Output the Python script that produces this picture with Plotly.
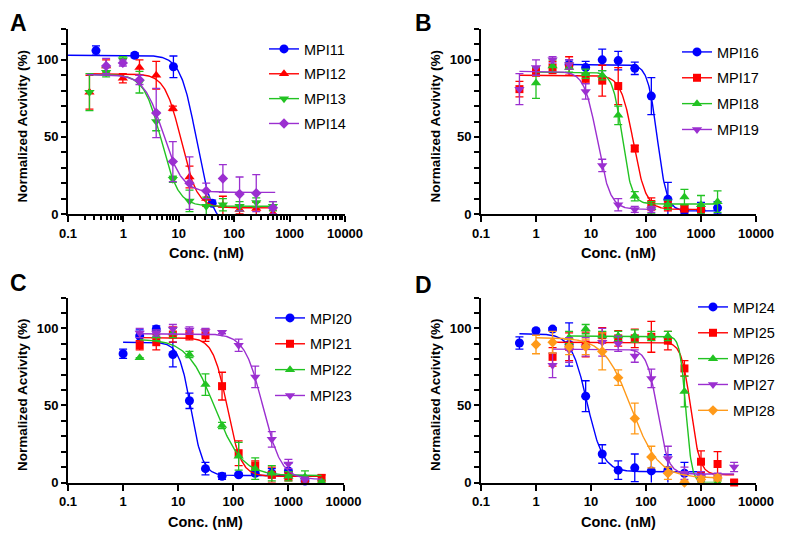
import numpy as np
import plotly.graph_objects as go

FONT = "Liberation Sans, Arial, sans-serif"

# ---------------- Panel A ----------------
MPI11_conc = [0.32, 1.6, 8.0, 40.0]
MPI11_mean = [106, 103, 95.5, 7]
MPI11_sd = [3, 1.5, 7, 2]
MPI11_fit = [103, -8, 21, 3.0]        # top, bottom, IC50 (nM), Hill
MPI11_span = [0.1, 60]

MPI12_conc = [0.244, 0.488, 0.977, 1.95, 3.91, 7.81, 15.6, 31.3, 62.5, 125, 250, 500]
MPI12_mean = [79, 96, 88, 95, 90, 68.5, 24, 10, 5.5, 3, 3.5, 0.5]
MPI12_sd = [11, 4, 3, 5, 9, 1.5, 7, 5, 6, 3, 4, 2]
MPI12_fit = [91, 4, 11, 3.0]
MPI12_span = [0.22, 550]

MPI13_conc = [0.244, 0.488, 0.977, 1.95, 3.91, 7.81, 15.6, 31.3, 62.5, 125, 250, 500]
MPI13_mean = [79, 92, 100, 85.5, 60, 22.5, 8.5, 5, 6, 5, 7.5, 5]
MPI13_sd = [12, 3, 2, 7, 6, 2, 7, 6, 4, 3, 3, 3]
MPI13_fit = [90.5, 5, 4.8, 2.8]
MPI13_span = [0.22, 550]

MPI14_conc = [0.488, 0.977, 1.95, 3.91, 7.81, 15.6, 31.3, 62.5, 125, 250, 500]
MPI14_mean = [96, 98, 87, 65.5, 34, 20, 15, 23, 13, 13.5, 4]
MPI14_sd = [5, 2, 3, 16, 13, 17, 5, 9, 11, 12, 4]
MPI14_fit = [90.5, 14, 5.2, 2.5]
MPI14_span = [0.22, 550]

# ---------------- Panel B ----------------
MPI16_conc = [4, 8, 16, 31.25, 62.5, 125, 250, 500, 1000, 2000]
MPI16_mean = [97, 95, 100, 99.5, 94.5, 76.5, 9.5, 2.5, 2.5, 4]
MPI16_sd = [3, 4, 7, 6, 4, 12, 11, 2, 5, 4]
MPI16_fit = [97, 2, 160, 5.0]
MPI16_span = [3.5, 2000]

MPI17_conc = [0.5, 1, 2, 4, 8, 16, 31.25, 62.5, 125, 250, 500, 1000]
MPI17_mean = [81, 92.5, 95, 96, 88, 86.5, 83, 42.5, 6.5, 5, 3.5, 3]
MPI17_sd = [5, 3, 4, 6, 3, 10, 12, 2, 4, 3, 2, 2]
MPI17_fit = [90, 3, 59, 3.8]
MPI17_span = [0.5, 1000]

MPI18_conc = [1, 2, 4, 8, 16, 31.25, 62.5, 125, 250, 500, 1000, 2000]
MPI18_mean = [85, 96, 95, 91, 90, 64, 11.5, 4, 6, 11, 6, 8]
MPI18_sd = [10, 4, 3, 3, 3, 6, 3, 4, 3, 5, 6, 7]
MPI18_fit = [92, 6.5, 37, 5.0]
MPI18_span = [1, 2000]

MPI19_conc = [0.5, 1, 2, 4, 8, 16, 31.25, 62.5, 125]
MPI19_mean = [81, 95, 100, 97, 79.5, 31.5, 6, 3, 3]
MPI19_sd = [10, 5, 2, 3, 5, 4, 4, 2, 2]
MPI19_fit = [92.5, 3, 13, 3.7]
MPI19_span = [0.5, 125]

# ---------------- Panel C ----------------
MPI20_conc = [1, 2, 4, 8, 16, 31.25, 62.5, 125, 250, 500, 1000, 2000]
MPI20_mean = [83.5, 95, 99.5, 83, 53, 9, 4, 5, 6, 6, 7.5, 1]
MPI20_sd = [3, 4, 2, 8, 5, 4, 2, 1, 1, 3, 5, 2]
MPI20_fit = [91, 4.5, 17, 4.0]
MPI20_span = [1, 2000]

MPI21_conc = [2, 4, 8, 16, 31.25, 62.5, 125, 250, 500, 1000, 2000, 4000]
MPI21_mean = [89, 91, 96, 95.5, 95.5, 62.5, 19, 11, 5, 4, 1.5, 3]
MPI21_sd = [3, 5, 5, 3, 4, 9, 8, 3, 5, 3, 2, 2]
MPI21_fit = [94, 4, 77, 3.4]
MPI21_span = [2, 4000]

MPI22_conc = [2, 4, 8, 16, 31.25, 62.5, 125, 250, 500, 1000, 2000, 4000]
MPI22_mean = [81, 95, 97, 83, 63.5, 37, 17, 9, 6, 4, 3.5, 0.5]
MPI22_sd = [0, 3, 3, 2, 7, 2, 9, 7, 5, 3, 4, 1]
MPI22_fit = [93, 4.5, 46, 1.75]
MPI22_span = [2, 4000]

MPI23_conc = [2, 4, 8, 16, 31.25, 62.5, 125, 250, 500, 1000, 2000]
MPI23_mean = [97, 97, 99.5, 99, 98, 97.5, 89, 68.5, 28, 12, 1.5]
MPI23_sd = [3, 2, 3, 2, 2, 1, 4, 7, 5, 3, 2]
MPI23_fit = [96.5, 2, 345, 2.6]
MPI23_span = [2, 4000]

# ---------------- Panel D ----------------
MPI24_conc = [0.5, 1, 2, 4, 8, 16, 31.25, 62.5, 125, 250, 500, 1000]
MPI24_mean = [90.5, 98.5, 99.5, 89.5, 56, 18.5, 8, 9.5, 7.5, 8, 6, 4]
MPI24_sd = [4, 1, 1, 14, 10, 6, 6, 9, 9, 10, 7, 3]
MPI24_fit = [96.5, 7, 8.5, 3.0]
MPI24_span = [0.5, 1000]

MPI25_conc = [2, 4, 8, 16, 31.25, 62.5, 125, 250, 500, 1000, 2000, 4000]
MPI25_mean = [81.5, 88, 89.5, 95.5, 93.5, 93.5, 94.5, 92, 74, 13.5, 12, 0]
MPI25_sd = [6, 9, 8, 5, 5, 6, 10, 6, 5, 7, 8, 1]
MPI25_fit = [91, 5, 650, 5.2]
MPI25_span = [2, 4000]

MPI26_conc = [4, 8, 16, 31.25, 62.5, 125, 250, 500, 1000, 2000]
MPI26_mean = [94, 99.5, 95, 95, 95, 95, 95, 59, 0, 0]
MPI26_sd = [4, 3, 3, 3, 4, 3, 3, 10, 1, 1]
MPI26_fit = [95, 0, 530, 8.0]
MPI26_span = [4, 2000]

MPI27_conc = [2, 4, 8, 16, 31.25, 62.5, 125, 250, 500, 1000, 2000, 4000]
MPI27_mean = [76, 86, 88, 91, 90, 82, 67.5, 15.5, 6, 4, 4, 10]
MPI27_sd = [8, 8, 6, 9, 5, 4, 6, 8, 4, 3, 2, 3]
MPI27_fit = [86.5, 5.5, 162, 4.5]
MPI27_span = [2, 4000]

MPI28_conc = [1, 2, 4, 8, 16, 31.25, 62.5, 125, 250, 500, 1000, 2000]
MPI28_mean = [89.5, 91, 88, 88, 85, 68, 41.5, 16.5, 6, 0, 2, 3]
MPI28_sd = [6, 7, 5, 5, 12, 5, 10, 7, 4, 1, 2, 2]
MPI28_fit = [94, 3, 54, 1.76]
MPI28_span = [1, 2000]

X_TICKS = [0.1, 1, 10, 100, 1000, 10000]
X_TICK_TEXT = ["0.1", "1", "10", "100", "1000", "10000"]
Y_TICKS = list(range(0, 121, 10))
Y_TICK_TEXT = ["0", "", "", "", "", "50", "", "", "", "", "100", "", ""]

PANELS = [
    ("A", [("MPI11", MPI11_conc, MPI11_mean, MPI11_sd, MPI11_fit, MPI11_span),
           ("MPI12", MPI12_conc, MPI12_mean, MPI12_sd, MPI12_fit, MPI12_span),
           ("MPI13", MPI13_conc, MPI13_mean, MPI13_sd, MPI13_fit, MPI13_span),
           ("MPI14", MPI14_conc, MPI14_mean, MPI14_sd, MPI14_fit, MPI14_span)]),
    ("B", [("MPI16", MPI16_conc, MPI16_mean, MPI16_sd, MPI16_fit, MPI16_span),
           ("MPI17", MPI17_conc, MPI17_mean, MPI17_sd, MPI17_fit, MPI17_span),
           ("MPI18", MPI18_conc, MPI18_mean, MPI18_sd, MPI18_fit, MPI18_span),
           ("MPI19", MPI19_conc, MPI19_mean, MPI19_sd, MPI19_fit, MPI19_span)]),
    ("C", [("MPI20", MPI20_conc, MPI20_mean, MPI20_sd, MPI20_fit, MPI20_span),
           ("MPI21", MPI21_conc, MPI21_mean, MPI21_sd, MPI21_fit, MPI21_span),
           ("MPI22", MPI22_conc, MPI22_mean, MPI22_sd, MPI22_fit, MPI22_span),
           ("MPI23", MPI23_conc, MPI23_mean, MPI23_sd, MPI23_fit, MPI23_span)]),
    ("D", [("MPI24", MPI24_conc, MPI24_mean, MPI24_sd, MPI24_fit, MPI24_span),
           ("MPI25", MPI25_conc, MPI25_mean, MPI25_sd, MPI25_fit, MPI25_span),
           ("MPI26", MPI26_conc, MPI26_mean, MPI26_sd, MPI26_fit, MPI26_span),
           ("MPI27", MPI27_conc, MPI27_mean, MPI27_sd, MPI27_fit, MPI27_span),
           ("MPI28", MPI28_conc, MPI28_mean, MPI28_sd, MPI28_fit, MPI28_span)]),
]

COLORS = ["#0000FF", "#FF0000", "#22C322", "#9B2FD0", "#FF9A1A"]
SYMBOLS = {
    "A": ["circle", "triangle-up", "triangle-down", "diamond"],
    "B": ["circle", "square", "triangle-up", "triangle-down"],
    "C": ["circle", "square", "triangle-up", "triangle-down"],
    "D": ["circle", "square", "triangle-up", "triangle-down", "diamond"],
}
SIZES = {"circle": 9, "square": 8, "triangle-up": 9, "triangle-down": 9, "diamond": 8}

# The page body keeps its default 8px margin, so the figure is 8px smaller
# and every page-pixel position below is shifted by that margin.
PAGE_MARGIN = 8
W, H = 789 - PAGE_MARGIN, 535 - PAGE_MARGIN


def px(x):
    return (x - PAGE_MARGIN) / W


def py(y):
    return (H - (y - PAGE_MARGIN)) / H


# page-pixel boxes of the plot areas (left, right, top, bottom)
BOX = {"A": (68, 345, 29, 214), "B": (481, 756, 29, 214),
       "C": (68, 343.5, 297.5, 482.5), "D": (481, 756, 297.5, 482.5)}
# legend: (x of label text start, y of first entry centre, row gap)
LEGEND_POS = {"A": (304, 50, 3), "B": (717, 53, 4), "C": (310, 319, 4), "D": (733, 308, 4)}
LETTER_POS = {"A": (18.5, 23), "B": (423.5, 23), "C": (18.5, 283), "D": (423.5, 285)}

fig = go.Figure()


def four_pl(x, p):
    top, bottom, ic50, hill = p
    return bottom + (top - bottom) / (1.0 + (x / ic50) ** hill)


for pi, (key, series) in enumerate(PANELS):
    ax = "" if pi == 0 else str(pi + 1)
    xa, ya = "x" + ax, "y" + ax
    leg = "legend" + ax
    for si, (name, conc, mean, sd, fit, span) in enumerate(series):
        col = COLORS[si]
        sym = SYMBOLS[key][si]
        xs = np.logspace(np.log10(span[0]), np.log10(span[1]), 300)
        fig.add_trace(go.Scatter(x=xs, y=four_pl(xs, fit), mode="lines",
                                 line=dict(color=col, width=1.4), xaxis=xa, yaxis=ya,
                                 showlegend=False, hoverinfo="skip"))
        fig.add_trace(go.Scatter(x=conc, y=mean, mode="markers",
                                 marker=dict(symbol=sym, size=SIZES[sym], color=col),
                                 error_y=dict(type="data", array=sd, color=col,
                                              thickness=1.3, width=4),
                                 xaxis=xa, yaxis=ya, cliponaxis=False, showlegend=False))
        fig.add_trace(go.Scatter(x=[None], y=[None], mode="lines+markers", name=name,
                                 marker=dict(symbol=sym, size=SIZES[sym], color=col),
                                 line=dict(color=col, width=1.4), xaxis=xa, yaxis=ya,
                                 legend=leg, legendgroup=key + name, showlegend=True))

    l, r, t, b = BOX[key]
    xdom = [px(l), px(r)]
    ydom = [py(b), py(t)]
    xaxis = dict(domain=xdom, type="log", range=[-1, 4], anchor=ya, automargin=False,
                 showline=True, linewidth=2, linecolor="black", mirror=False,
                 ticks="outside", ticklen=6, tickwidth=2, tickcolor="black",
                 tickmode="array", tickvals=X_TICKS, ticktext=X_TICK_TEXT,
                 showgrid=False, zeroline=False,
                 tickfont=dict(family=FONT, size=13, color="black", weight="bold"))
    if key == "A":
        minor_vals = [k * 10.0 ** e for e in range(-1, 4) for k in range(2, 10)]
        xaxis["minor"] = dict(tickmode="array", tickvals=minor_vals, ticks="outside",
                              ticklen=3.5, tickwidth=1.5, tickcolor="black", showgrid=False)
    yaxis = dict(domain=ydom, range=[0, 120], anchor=xa, automargin=False,
                 showline=True, linewidth=2, linecolor="black",
                 ticks="outside", ticklen=5, tickwidth=2, tickcolor="black",
                 tickmode="array", tickvals=Y_TICKS, ticktext=Y_TICK_TEXT,
                 showgrid=False, zeroline=False,
                 tickfont=dict(family=FONT, size=13, color="black", weight="bold"))
    fig.layout["xaxis" + ax] = xaxis
    fig.layout["yaxis" + ax] = yaxis

    tx, ty, gap = LEGEND_POS[key]
    fig.layout[leg] = dict(x=px(tx - 40), y=py(ty - 17), xanchor="left", yanchor="top",
                           xref="paper", yref="paper", bgcolor="rgba(0,0,0,0)",
                           font=dict(family=FONT, size=14.5, color="black"),
                           tracegroupgap=gap, itemwidth=30)

    # axis titles and panel letter
    fig.add_annotation(x=px((l + r) / 2), y=py(b + 39), xref="paper", yref="paper",
                       xanchor="center", yanchor="middle",
                       text="<b>Conc. (nM)</b>", showarrow=False,
                       font=dict(family=FONT, size=14.5, color="black"))
    fig.add_annotation(x=px(l - 46), y=py((t + b) / 2 + 5), xref="paper", yref="paper",
                       xanchor="center", yanchor="middle",
                       text="<b>Normalized Acvivity (%)</b>", showarrow=False, textangle=-90,
                       font=dict(family=FONT, size=13.5, color="black"))
    lx2, ly2 = LETTER_POS[key]
    fig.add_annotation(x=px(lx2), y=py(ly2), xref="paper", yref="paper",
                       xanchor="center", yanchor="middle", text="<b>%s</b>" % key,
                       showarrow=False, font=dict(family=FONT, size=23, color="black"))

fig.update_layout(width=W, height=H, margin=dict(l=0, r=0, t=0, b=0, autoexpand=False),
                  paper_bgcolor="white", plot_bgcolor="white",
                  font=dict(family=FONT, color="black"))

fig.write_html("out.html")
